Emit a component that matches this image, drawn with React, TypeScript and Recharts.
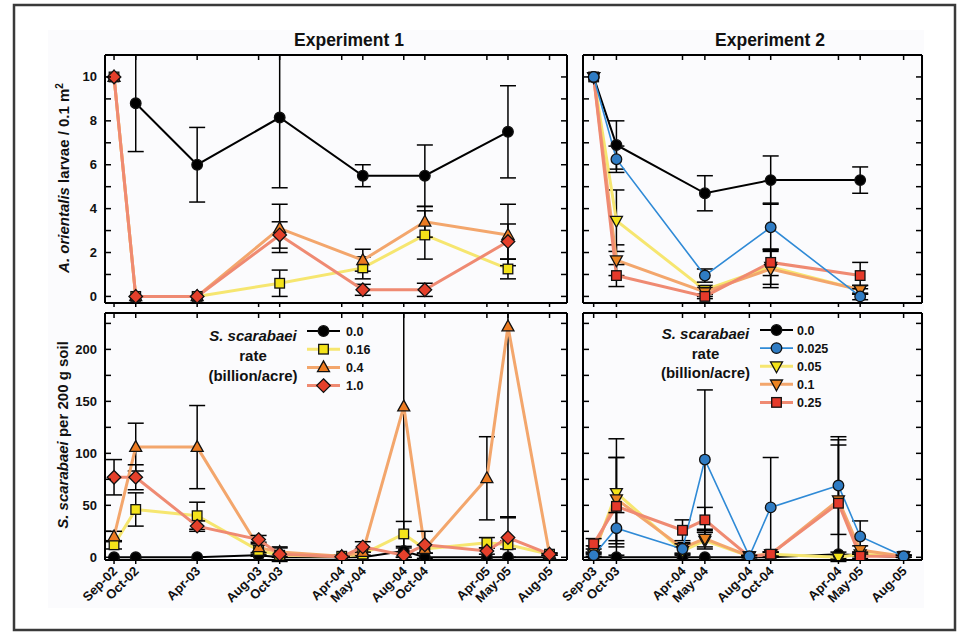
import React from "react";
import { LineChart, Line, XAxis, YAxis, ErrorBar, Legend } from "recharts";

const FONT = "'Liberation Sans', Arial, Helvetica, sans-serif";

// ── Experiment 1: x = months since 1 Sep 2002 ──
const exp1Dates = [0, 1.8, 6.9, 12.0, 13.75, 18.9, 20.65, 24.05, 25.8, 30.95, 32.7, 36.15];
const exp1Labels = ["Sep-02", "Oct-02", "Apr-03", "Aug-03", "Oct-03", "Apr-04", "May-04", "Aug-04", "Oct-04", "Apr-05", "May-05", "Aug-05"];
const exp1Rates = ["0.0", "0.16", "0.4", "1.0"];

const larvae1Dates = [0, 1.8, 6.9, 13.75, 20.65, 25.8, 32.7];
const larvae1Rate0 = [null, 8.8, 6.0, 8.15, 5.5, 5.5, 7.5];
const larvae1Rate0Err = [null, 2.2, 1.7, 3.2, 0.5, 1.4, 2.1];
const larvae1Rate016 = [10, 0, 0, 0.6, 1.3, 2.8, 1.25];
const larvae1Rate016Err = [0, 0, 0, 0.6, 0.5, 1.1, 0.45];
const larvae1Rate04 = [10, 0, 0, 3.1, 1.65, 3.4, 2.8];
const larvae1Rate04Err = [0, 0, 0, 1.1, 0.5, 0.7, 1.4];
const larvae1Rate1 = [10, 0, 0, 2.8, 0.3, 0.3, 2.5];
const larvae1Rate1Err = [0, 0, 0, 0.6, 0.25, 0.3, 0.8];

const soil1Rate0 = [0, 0, 0, 2, 0, 0, 0, 6, 0, 0, 0, 0];
const soil1Rate0Err = [0, 0, 0, 1, 0, 0, 0, 3, 0, 0, 0, 0];
const soil1Rate016 = [12, 46, 40, 6.5, 2, 1, 3, 22.5, 8, 14, 12, 3];
const soil1Rate016Err = [4, 16, 13, 5, 2, 1, 2, 12, 4, 5, 4, 1];
const soil1Rate04 = [20, 106, 106, 9.5, 5, 1, 5, 145, 8, 76, 222, 3];
const soil1Rate04Err = [5, 23, 40, 5, 4, 1, 3, 145, 4, 40, 183, 1];
const soil1Rate1 = [77, 77, 30, 17, 3, 0.5, 10, 2, 12, 6, 19, 3];
const soil1Rate1Err = [17, 12, 5, 4, 7, 0.5, 5, 2, 13, 3, 19, 1];

// ── Experiment 2: x = months since 1 Sep 2003 ──
const exp2Dates = [0.03, 1.8, 6.94, 8.68, 12.14, 13.8, 19.07, 20.76, 24.14];
const exp2Labels = ["Sep-03", "Oct-03", "Apr-04", "May-04", "Aug-04", "Oct-04", "Apr-04", "May-05", "Aug-05"];
const exp2Rates = ["0.0", "0.025", "0.05", "0.1", "0.25"];

const larvae2Dates = [0.03, 1.8, 8.68, 13.8, 20.76];
const larvae2Rate0 = [10, 6.9, 4.7, 5.3, 5.3];
const larvae2Rate0Err = [0, 1.1, 0.8, 1.1, 0.6];
const larvae2Rate0025 = [10, 6.25, 0.95, 3.15, 0.0];
const larvae2Rate0025Err = [0, 0.6, 0.3, 1.1, 0.15];
const larvae2Rate005 = [10, 3.45, 0.3, 1.35, 0.3];
const larvae2Rate005Err = [0, 1.4, 0.2, 0.8, 0.2];
const larvae2Rate01 = [10, 1.65, 0.2, 1.25, 0.3];
const larvae2Rate01Err = [0, 0.7, 0.2, 0.85, 0.2];
const larvae2Rate025 = [10, 0.95, 0.0, 1.55, 0.95];
const larvae2Rate025Err = [0, 0.5, 0.1, 0.6, 0.6];

const soil2Rate0 = [0, 0, 0, 0, 0, 0, 3, 2, 0];
const soil2Rate0Err = [0, 0, 0, 0, 0, 0, 2, 1, 0];
const soil2Rate0025 = [2, 28, 8, 94, 1, 48, 69, 20, 1];
const soil2Rate0025Err = [2, 15, 5, 67, 1, 48, 47, 15, 1];
const soil2Rate005 = [3, 62, 6, 16, 1, 3, 0, 3, 1];
const soil2Rate005Err = [2, 52, 4, 8, 1, 2, 1, 2, 1];
const soil2Rate01 = [7, 56, 9, 18, 1, 3, 55, 7, 1];
const soil2Rate01Err = [4, 40, 5, 8, 1, 2, 58, 4, 1];
const soil2Rate025 = [13, 49, 26, 36, 0.5, 3, 52, 1, 1];
const soil2Rate025Err = [5, 47, 10, 12, 1, 2, 56, 2, 1];

const larvaeTicks = [0, 1, 2, 3, 4, 5, 6, 7, 8, 9, 10];
const soilTicks = [0, 25, 50, 75, 100, 125, 150, 175, 200, 225];

type Shape = "circle" | "square" | "triUp" | "triDown" | "diamond";
interface SeriesStyle {
  shape: Shape;
  fill: string;
  line: string;
  lineWidth: number;
}

// styles follow the rate order of each experiment
const exp1Styles: SeriesStyle[] = [
  { shape: "circle", fill: "#000", line: "#000", lineWidth: 2 },
  { shape: "square", fill: "#f4e31a", line: "#f6e670", lineWidth: 3 },
  { shape: "triUp", fill: "#ec7b22", line: "#f3a66c", lineWidth: 3 },
  { shape: "diamond", fill: "#e5402b", line: "#ef8a72", lineWidth: 3 },
];

const exp2Styles: SeriesStyle[] = [
  { shape: "circle", fill: "#000", line: "#000", lineWidth: 2 },
  { shape: "circle", fill: "#2f7cc4", line: "#2f8ad6", lineWidth: 1.6 },
  { shape: "triDown", fill: "#f4e31a", line: "#f6e670", lineWidth: 3 },
  { shape: "triDown", fill: "#ec8422", line: "#f3a66c", lineWidth: 3 },
  { shape: "square", fill: "#e53a2b", line: "#ef8a72", lineWidth: 3 },
];
// draw order for exp 2 (blue drawn after the pale lines)
const exp2Order = [0, 2, 3, 4, 1];

function buildRows(xs: number[], values: (number | null)[][], errors: (number | null)[][]) {
  return xs.map((x, i) => {
    const row: Record<string, number | null> = { x };
    values.forEach((vals, s) => {
      row[`s${s}`] = vals[i];
      row[`e${s}`] = vals[i] == null ? null : errors[s][i];
    });
    return row;
  });
}

const larvae1Rows = buildRows(
  larvae1Dates,
  [larvae1Rate0, larvae1Rate016, larvae1Rate04, larvae1Rate1],
  [larvae1Rate0Err, larvae1Rate016Err, larvae1Rate04Err, larvae1Rate1Err]
);
const soil1Rows = buildRows(
  exp1Dates,
  [soil1Rate0, soil1Rate016, soil1Rate04, soil1Rate1],
  [soil1Rate0Err, soil1Rate016Err, soil1Rate04Err, soil1Rate1Err]
);
const larvae2Rows = buildRows(
  larvae2Dates,
  [larvae2Rate0, larvae2Rate0025, larvae2Rate005, larvae2Rate01, larvae2Rate025],
  [larvae2Rate0Err, larvae2Rate0025Err, larvae2Rate005Err, larvae2Rate01Err, larvae2Rate025Err]
);
const soil2Rows = buildRows(
  exp2Dates,
  [soil2Rate0, soil2Rate0025, soil2Rate005, soil2Rate01, soil2Rate025],
  [soil2Rate0Err, soil2Rate0025Err, soil2Rate005Err, soil2Rate01Err, soil2Rate025Err]
);

function Marker({ shape, cx, cy, fill }: { shape: Shape; cx: number; cy: number; fill: string }) {
  const common = { fill, stroke: "#111", strokeWidth: 1.3 };
  const r = 5.3;
  switch (shape) {
    case "circle":
      return <circle cx={cx} cy={cy} r={r} {...common} />;
    case "square":
      return <rect x={cx - 4.8} y={cy - 4.8} width={9.6} height={9.6} {...common} />;
    case "triUp":
      return <polygon points={`${cx},${cy - 6.5} ${cx + 6},${cy + 4.3} ${cx - 6},${cy + 4.3}`} {...common} />;
    case "triDown":
      return <polygon points={`${cx},${cy + 6.5} ${cx + 6},${cy - 4.3} ${cx - 6},${cy - 4.3}`} {...common} />;
    default:
      return <polygon points={`${cx},${cy - 6.8} ${cx + 6.8},${cy} ${cx},${cy + 6.8} ${cx - 6.8},${cy}`} {...common} />;
  }
}

const tickText = { fontSize: 13, fontWeight: 700, fontFamily: FONT, fill: "#111" } as const;

const leftTick = (step: number, show: boolean) => (p: any) => (
  <g>
    <line x1={p.x} x2={p.x + 6} y1={p.y} y2={p.y} stroke="#000" strokeWidth={1.5} />
    {show && p.payload.value % step === 0 ? (
      <text x={p.x - 8} y={p.y + 4.5} textAnchor="end" {...tickText}>
        {p.payload.value}
      </text>
    ) : null}
  </g>
);
const rightTick = (p: any) => (
  <line x1={p.x - 6} x2={p.x} y1={p.y} y2={p.y} stroke="#000" strokeWidth={1.5} />
);
const topTick = (p: any) => (
  <line x1={p.x} x2={p.x} y1={p.y} y2={p.y + 5} stroke="#000" strokeWidth={1.5} />
);
const dateTick = (dates: number[], labels: string[] | null) => (p: any) => {
  if (!labels) return <g />;
  const label = labels[dates.indexOf(p.payload.value)];
  const ax = p.x + 4;
  const ay = p.y + 6;
  return (
    <text x={ax} y={ay} transform={`rotate(-45, ${ax}, ${ay})`} textAnchor="end" {...tickText}>
      {label}
    </text>
  );
};

interface LegendLayout {
  textCx: number;
  textBase: number[];
  rowY0: number;
  rowGap: number;
  lineX0: number;
  lineX1: number;
  labelX: number;
}

function LegendBox({ names, styles, layout }: { names: string[]; styles: SeriesStyle[]; layout: LegendLayout }) {
  return (
    <svg width={200} height={110} style={{ display: "block" }}>
      <text x={layout.textCx} y={layout.textBase[0]} textAnchor="middle" fontSize={15} fontWeight={700} fontStyle="italic" fontFamily={FONT} fill="#111">
        S. scarabaei
      </text>
      <text x={layout.textCx} y={layout.textBase[1]} textAnchor="middle" fontSize={15} fontWeight={700} fontFamily={FONT} fill="#111">
        rate
      </text>
      <text x={layout.textCx} y={layout.textBase[2]} textAnchor="middle" fontSize={15} fontWeight={700} fontFamily={FONT} fill="#111">
        (billion/acre)
      </text>
      {names.map((name, i) => {
        const y = layout.rowY0 + i * layout.rowGap;
        const st = styles[i];
        const mx = (layout.lineX0 + layout.lineX1) / 2;
        return (
          <g key={name}>
            <line x1={layout.lineX0} x2={layout.lineX1} y1={y} y2={y} stroke={st.line} strokeWidth={st.lineWidth} />
            <Marker shape={st.shape} cx={mx} cy={y} fill={st.fill} />
            <text x={layout.labelX} y={y + 4.5} fontSize={12.5} fontWeight={700} fontFamily={FONT} fill="#111">
              {name}
            </text>
          </g>
        );
      })}
    </svg>
  );
}

interface PanelProps {
  left: number;
  top: number;
  plotW: number;
  plotH: number;
  rows: Record<string, number | null>[];
  styles: SeriesStyle[];
  order: number[];
  xDomain: [number, number];
  xTicks: number[];
  xLabels: string[] | null;
  yDomain: [number, number];
  yTicks: number[];
  yLabelStep: number;
  showYLabels: boolean;
  legend?: { x: number; y: number; names: string[]; layout: LegendLayout };
}

const LEFT_W = 45;

function Panel(props: PanelProps) {
  const { left, top, plotW, plotH, rows, styles, order, xDomain, xTicks, xLabels, yDomain, yTicks, yLabelStep, showYLabels, legend } = props;
  const bottomH = xLabels ? 70 : 10;
  const chartLeft = left - LEFT_W;
  const chartTop = top - 1;
  const width = LEFT_W + plotW + 1;
  const height = 1 + plotH + bottomH;
  const axisLine = { stroke: "#000", strokeWidth: 2 };
  return (
    <div style={{ position: "absolute", left: chartLeft, top: chartTop }}>
      <LineChart width={width} height={height} data={rows} margin={{ top: 0, right: 0, bottom: 0, left: 0 }}>
        <XAxis
          xAxisId="b"
          dataKey="x"
          type="number"
          domain={xDomain}
          allowDataOverflow
          ticks={xTicks}
          interval={0}
          height={bottomH}
          axisLine={axisLine}
          tickLine={{ stroke: "#000", strokeWidth: 1.5 }}
          tickSize={4}
          tickMargin={2}
          tick={dateTick(xTicks, xLabels)}
        />
        <XAxis
          xAxisId="t"
          orientation="top"
          dataKey="x"
          type="number"
          domain={xDomain}
          allowDataOverflow
          ticks={xTicks}
          interval={0}
          height={1}
          axisLine={axisLine}
          tickLine={false}
          tickSize={0}
          tickMargin={0}
          tick={topTick}
        />
        <YAxis
          yAxisId="l"
          type="number"
          domain={yDomain}
          allowDataOverflow
          ticks={yTicks}
          interval={0}
          width={LEFT_W}
          axisLine={axisLine}
          tickLine={false}
          tickSize={0}
          tickMargin={0}
          tick={leftTick(yLabelStep, showYLabels)}
        />
        <YAxis
          yAxisId="r"
          orientation="right"
          type="number"
          domain={yDomain}
          allowDataOverflow
          ticks={yTicks}
          interval={0}
          width={1}
          axisLine={axisLine}
          tickLine={false}
          tickSize={0}
          tickMargin={0}
          tick={rightTick}
        />
        {order.map((s) => {
          const st = styles[s];
          return (
            <Line
              key={s}
              xAxisId="b"
              yAxisId="l"
              type="linear"
              dataKey={`s${s}`}
              stroke={st.line}
              strokeWidth={st.lineWidth}
              isAnimationActive={false}
              activeDot={false}
              dot={(d: any) =>
                d.cx == null || d.cy == null || d.value == null ? (
                  <g key={`d${s}-${d.index}`} />
                ) : (
                  <Marker key={`d${s}-${d.index}`} shape={st.shape} cx={d.cx} cy={d.cy} fill={st.fill} />
                )
              }
            >
              <ErrorBar dataKey={`e${s}`} direction="y" width={8} stroke="#000" strokeWidth={1.5} />
            </Line>
          );
        })}
        {legend ? (
          <Legend
            layout="vertical"
            align="center"
            verticalAlign="middle"
            wrapperStyle={{ left: legend.x - chartLeft, top: legend.y - chartTop, width: 200, height: 110 }}
            content={() => <LegendBox names={legend.names} styles={styles} layout={legend.layout} />}
          />
        ) : null}
      </LineChart>
    </div>
  );
}

const exp1Legend: LegendLayout = {
  textCx: 53,
  textBase: [22.5, 43, 62.5],
  rowY0: 13,
  rowGap: 18.2,
  lineX0: 107,
  lineX1: 140,
  labelX: 146,
};
const exp2Legend: LegendLayout = {
  textCx: 55.5,
  textBase: [21, 40.5, 59.5],
  rowY0: 12,
  rowGap: 18.1,
  lineX0: 110,
  lineX1: 143,
  labelX: 147,
};

export default function App() {
  const exp1X: [number, number] = [-0.75, 37.6];
  const exp2X: [number, number] = [-0.8, 25.57];
  const larvaeY: [number, number] = [-0.3, 11];
  const soilY: [number, number] = [-2.6, 235];
  return (
    <div style={{ position: "absolute", left: 0, top: 0, width: 961, height: 634, background: "#fff", fontFamily: FONT }}>
      <svg width={961} height={634} style={{ position: "absolute", left: 0, top: 0 }}>
        <rect x={48} y={30} width={876} height={578} fill="#fbfbfd" />
        <rect x={14} y={5} width={941} height={625} fill="none" stroke="#3a3a3a" strokeWidth={2.5} />
        <text x={349} y={46} textAnchor="middle" fontSize={17.5} fontWeight={700} fontFamily={FONT} fill="#111">
          Experiment 1
        </text>
        <text x={770} y={46} textAnchor="middle" fontSize={17.5} fontWeight={700} fontFamily={FONT} fill="#111">
          Experiment 2
        </text>
        <text transform="translate(69,178) rotate(-90)" textAnchor="middle" fontSize={15} fontWeight={700} fontFamily={FONT} fill="#111">
          <tspan fontStyle="italic">A. orientalis</tspan> larvae / 0.1 m
          <tspan dy={-6} fontSize={10}>2</tspan>
        </text>
        <text transform="translate(68,435) rotate(-90)" textAnchor="middle" fontSize={15} fontWeight={700} fontFamily={FONT} fill="#111">
          <tspan fontStyle="italic">S. scarabaei</tspan> per 200 g soil
        </text>
      </svg>

      <Panel
        left={105}
        top={55}
        plotW={462}
        plotH={248}
        rows={larvae1Rows}
        styles={exp1Styles}
        order={[0, 1, 2, 3]}
        xDomain={exp1X}
        xTicks={exp1Dates}
        xLabels={null}
        yDomain={larvaeY}
        yTicks={larvaeTicks}
        yLabelStep={2}
        showYLabels
      />
      <Panel
        left={583}
        top={55}
        plotW={339}
        plotH={248}
        rows={larvae2Rows}
        styles={exp2Styles}
        order={exp2Order}
        xDomain={exp2X}
        xTicks={exp2Dates}
        xLabels={null}
        yDomain={larvaeY}
        yTicks={larvaeTicks}
        yLabelStep={2}
        showYLabels={false}
      />
      <Panel
        left={105}
        top={313}
        plotW={462}
        plotH={247}
        rows={soil1Rows}
        styles={exp1Styles}
        order={[0, 1, 2, 3]}
        xDomain={exp1X}
        xTicks={exp1Dates}
        xLabels={exp1Labels}
        yDomain={soilY}
        yTicks={soilTicks}
        yLabelStep={50}
        showYLabels
        legend={{ x: 200, y: 318, names: exp1Rates, layout: exp1Legend }}
      />
      <Panel
        left={583}
        top={313}
        plotW={339}
        plotH={247}
        rows={soil2Rows}
        styles={exp2Styles}
        order={exp2Order}
        xDomain={exp2X}
        xTicks={exp2Dates}
        xLabels={exp2Labels}
        yDomain={soilY}
        yTicks={soilTicks}
        yLabelStep={50}
        showYLabels={false}
        legend={{ x: 650, y: 318, names: exp2Rates, layout: exp2Legend }}
      />
    </div>
  );
}
